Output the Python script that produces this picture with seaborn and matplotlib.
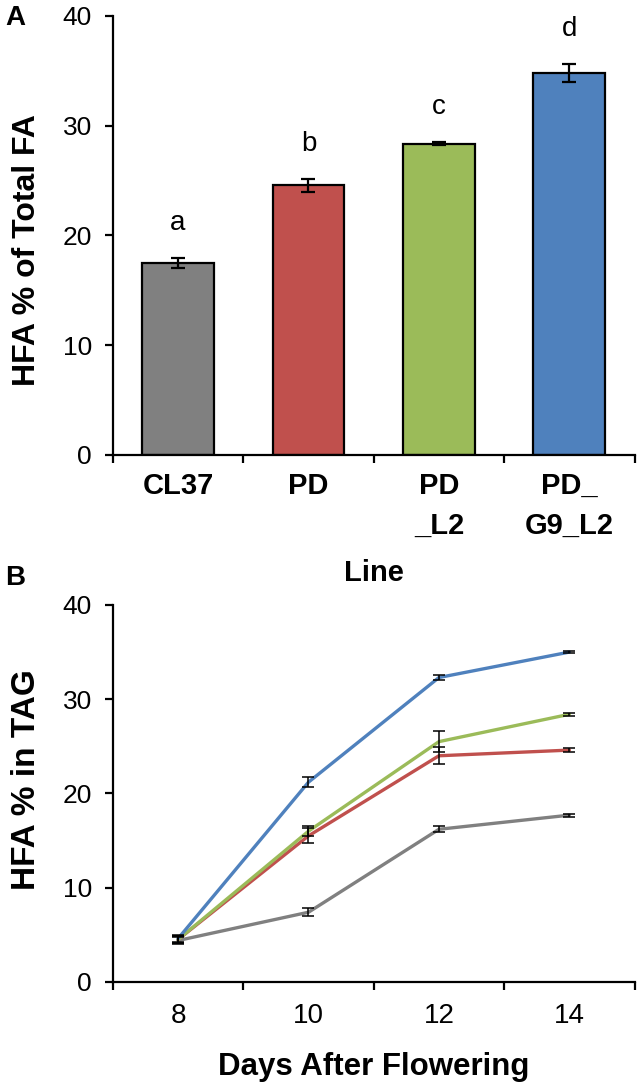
import pandas as pd
import seaborn as sns
import matplotlib.pyplot as plt

# Lines and their colours
lines = ["CL37", "PD", "PD_L2", "PD_G9_L2"]
line_labels = ["CL37", "PD", "PD\n_L2", "PD_\nG9_L2"]
colors = ["#808080", "#C0504D", "#9BBB59", "#4F81BD"]

# Panel A: HFA % of total FA in mature seed
hfa_total = [17.5, 24.55, 28.35, 34.8]
hfa_total_err = [0.45, 0.55, 0.15, 0.85]
letters = ["a", "b", "c", "d"]

# Panel B: HFA % in TAG during seed development
days = [8, 10, 12, 14]
tag_cl37 = [4.4, 7.4, 16.2, 17.7]
tag_pd = [4.5, 15.5, 24.0, 24.6]
tag_pd_l2 = [4.5, 16.0, 25.5, 28.4]
tag_pd_g9_l2 = [4.6, 21.2, 32.3, 35.0]
err_cl37 = [0.4, 0.45, 0.3, 0.15]
err_pd = [0.4, 0.8, 0.9, 0.2]
err_pd_l2 = [0.4, 0.5, 1.1, 0.15]
err_pd_g9_l2 = [0.4, 0.5, 0.3, 0.1]

sns.set_style("ticks")
plt.rcParams["font.family"] = ["Liberation Sans", "DejaVu Sans"]
for key in ["text.color", "axes.labelcolor", "xtick.color", "ytick.color", "axes.edgecolor"]:
    plt.rcParams[key] = "black"

df_a = pd.DataFrame({"line": lines, "hfa": hfa_total, "err": hfa_total_err})

series = {"CL37": (tag_cl37, err_cl37), "PD": (tag_pd, err_pd),
          "PD_L2": (tag_pd_l2, err_pd_l2), "PD_G9_L2": (tag_pd_g9_l2, err_pd_g9_l2)}
rows = []
for name, (vals, errs) in series.items():
    for d, v, e in zip(days, vals, errs):
        rows.append({"line": name, "day": d, "tag": v, "err": e})
df_b = pd.DataFrame(rows)

fig = plt.figure(figsize=(6.41, 10.9), dpi=100)
ax1 = fig.add_axes([0.176, 0.5826, 0.814, 0.4028])
ax2 = fig.add_axes([0.176, 0.0991, 0.814, 0.3459])


def style_axis(ax):
    sns.despine(ax=ax)
    for s in ["left", "bottom"]:
        ax.spines[s].set_linewidth(1.6)
    ax.set_ylim(0, 40)
    ax.set_yticks([0, 10, 20, 30, 40])
    ax.tick_params(axis="y", which="major", length=6, width=1.6, labelsize=19, pad=9)
    ax.tick_params(axis="x", which="major", length=6, width=1.6, labelbottom=False)
    ax.tick_params(axis="x", which="minor", length=0, pad=12, labelsize=20)


# ---- Panel A ----
sns.barplot(data=df_a, x="line", y="hfa", hue="line", palette=colors, saturation=1,
            width=0.55, edgecolor="black", linewidth=1.6, legend=False, ax=ax1)
ax1.errorbar(range(len(lines)), df_a["hfa"], yerr=df_a["err"], fmt="none",
             ecolor="black", elinewidth=1.6, capsize=5, capthick=1.6)
for i, (v, e, t) in enumerate(zip(hfa_total, hfa_total_err, letters)):
    ax1.text(i, v + e + 3.2, t, ha="center", va="center", fontsize=20)
ax1.set_xlim(-0.5, 3.5)
ax1.set_xticks([-0.5, 0.5, 1.5, 2.5, 3.5])
ax1.set_xticks(range(len(lines)), minor=True)
ax1.set_xticklabels(line_labels, minor=True, fontweight="bold", linespacing=1.55)
style_axis(ax1)
ax1.tick_params(axis="x", which="minor", labelsize=21)
ax1.set_xlabel("Line", fontsize=21, fontweight="bold", labelpad=14)
ax1.set_ylabel("HFA % of Total FA", fontsize=23, fontweight="bold")
ax1.yaxis.set_label_coords(-0.135, 0.467)

# ---- Panel B ----
sns.lineplot(data=df_b, x="day", y="tag", hue="line", hue_order=lines, palette=colors,
             linewidth=2.4, legend=False, ax=ax2)
for name in lines:
    sub = df_b[df_b["line"] == name]
    ax2.errorbar(sub["day"], sub["tag"], yerr=sub["err"], fmt="none",
                 ecolor="black", elinewidth=1.1, capsize=4, capthick=1.1)
ax2.set_xlim(7, 15)
ax2.set_xticks([7, 9, 11, 13, 15])
ax2.set_xticks(days, minor=True)
ax2.set_xticklabels([str(d) for d in days], minor=True)
style_axis(ax2)
ax2.tick_params(axis="x", which="minor", pad=15)
ax2.set_xlabel("Days After Flowering", fontsize=22.5, fontweight="bold", labelpad=17)
ax2.set_ylabel("HFA % in TAG", fontsize=24, fontweight="bold")
ax2.yaxis.set_label_coords(-0.135, 0.536)

fig.text(0.008, 0.995, "A", fontsize=20, fontweight="bold", va="top", ha="left")
fig.text(0.008, 0.482, "B", fontsize=20, fontweight="bold", va="top", ha="left")

plt.savefig("out.png", dpi=100)
plt.close()
